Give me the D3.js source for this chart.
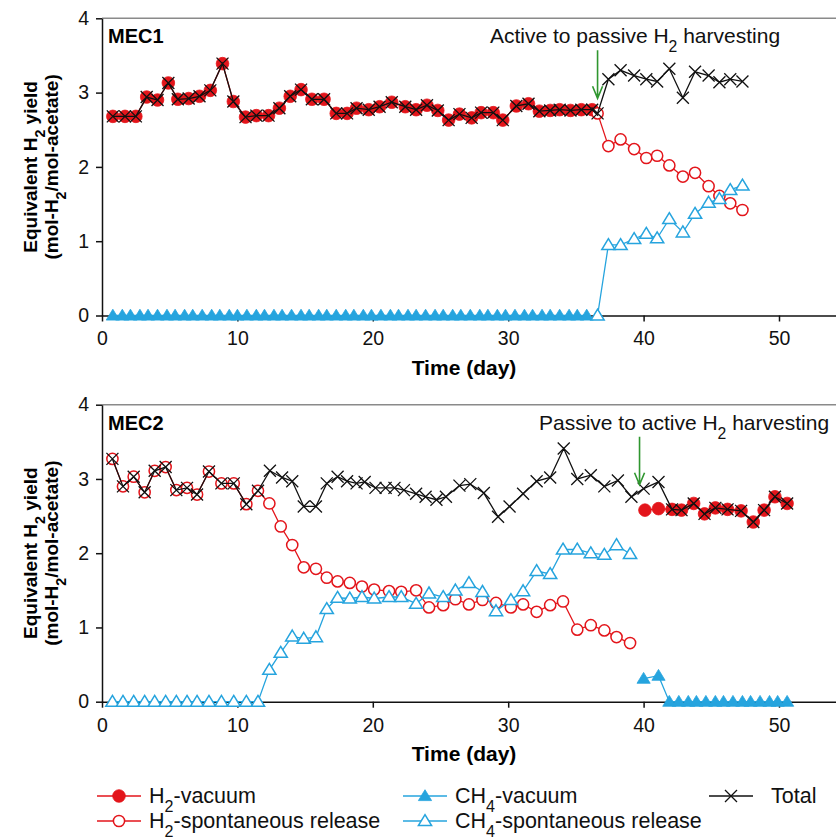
<!DOCTYPE html>
<html>
<head>
<meta charset="utf-8">
<script src="https://cdn.jsdelivr.net/npm/d3@7"></script>
<style>
  body { margin: 0; background: #fff; }
  svg { display: block; font-family: "Liberation Sans", Arial, sans-serif; }
</style>
</head>
<body>
<svg id="chart" width="836" height="840"></svg>
<script>
// ---- MEC1 (active -> passive) ----
var h2Vac1Days = [0.8,1.7,2.5,3.3,4.1,4.9,5.6,6.4,7.2,8.0,8.9,9.7,10.6,11.4,12.3,13.1,13.9,14.7,15.5,16.4,17.3,18.1,18.8,19.7,20.5,21.4,22.4,23.2,24.0,24.8,25.6,26.4,27.3,28.0,28.9,29.6,30.6,31.5,32.3,33.1,33.8,34.6,35.4,36.2];
var h2Vac1 = [2.68,2.68,2.68,2.94,2.90,3.13,2.91,2.92,2.95,3.03,3.39,2.88,2.67,2.69,2.69,2.79,2.95,3.04,2.91,2.91,2.72,2.72,2.79,2.77,2.81,2.87,2.81,2.77,2.83,2.76,2.63,2.71,2.66,2.73,2.73,2.63,2.82,2.85,2.75,2.76,2.77,2.76,2.77,2.77];
var ch4Vac1Days = [0.8,1.5,2.1,2.8,3.4,4.1,4.8,5.4,6.1,6.7,7.4,8.1,8.7,9.4,10.0,10.7,11.4,12.0,12.7,13.3,14.0,14.7,15.3,16.0,16.6,17.3,18.0,18.6,19.3,19.9,20.6,21.3,21.9,22.6,23.2,23.9,24.6,25.2,25.9,26.5,27.2,27.9,28.5,29.2,29.8,30.5,31.2,31.8,32.5,33.1,33.8,34.5,35.1,35.8];
var ch4Vac1 = [0,0,0,0,0,0,0,0,0,0,0,0,0,0,0,0,0,0,0,0,0,0,0,0,0,0,0,0,0,0,0,0,0,0,0,0,0,0,0,0,0,0,0,0,0,0,0,0,0,0,0,0,0,0];
var sp1Days = [36.6,37.4,38.3,39.3,40.2,41.0,41.9,42.9,43.8,44.8,45.6,46.4,47.3];
var h2Sp1 = [2.72,2.28,2.37,2.24,2.12,2.15,2.02,1.87,1.92,1.74,1.61,1.51,1.42];
var ch4Sp1 = [0,0.95,0.95,1.03,1.10,1.04,1.30,1.12,1.37,1.52,1.57,1.69,1.75];
var total1Days = [0.8,1.7,2.5,3.3,4.1,4.9,5.6,6.4,7.2,8.0,8.9,9.7,10.6,11.4,12.3,13.1,13.9,14.7,15.5,16.4,17.3,18.1,18.8,19.7,20.5,21.4,22.4,23.2,24.0,24.8,25.6,26.4,27.3,28.0,28.9,29.6,30.6,31.5,32.3,33.1,33.8,34.6,35.4,36.2,36.6,37.4,38.3,39.3,40.2,41.0,41.9,42.9,43.8,44.8,45.6,46.4,47.3];
var total1 = [2.68,2.68,2.68,2.94,2.90,3.13,2.91,2.92,2.95,3.03,3.39,2.88,2.67,2.69,2.69,2.79,2.95,3.04,2.91,2.91,2.72,2.72,2.79,2.77,2.81,2.87,2.81,2.77,2.83,2.76,2.63,2.71,2.66,2.73,2.73,2.63,2.82,2.85,2.75,2.76,2.77,2.76,2.77,2.77,2.72,3.18,3.30,3.23,3.18,3.15,3.32,2.93,3.28,3.23,3.14,3.18,3.15];

// ---- MEC2 (passive -> active) ----
var sp2Days = [0.77,1.55,2.34,3.15,3.89,4.70,5.49,6.28,7.02,7.90,8.82,9.73,10.66,11.52,12.36,13.2,14.05,14.9,15.8,16.6,17.4,18.3,19.2,20.1,21.2,22.1,23.2,24.15,25.2,26.1,27.1,28.1,29.1,30.2,31.1,32.1,33.1,34.05,35.1,36.1,37.1,38.0,39.0];
var h2Sp2 = [3.27,2.90,3.03,2.82,3.11,3.16,2.85,2.88,2.79,3.10,2.94,2.94,2.66,2.84,2.67,2.36,2.11,1.81,1.79,1.67,1.62,1.60,1.55,1.51,1.49,1.48,1.50,1.27,1.30,1.38,1.31,1.37,1.33,1.27,1.31,1.21,1.30,1.35,0.97,1.03,0.96,0.87,0.79];
var ch4Sp2 = [0,0,0,0,0,0,0,0,0,0,0,0,0,0,0.43,0.66,0.88,0.85,0.87,1.25,1.40,1.39,1.41,1.39,1.41,1.41,1.32,1.46,1.41,1.50,1.60,1.48,1.22,1.37,1.49,1.76,1.72,2.05,2.05,2.00,1.98,2.11,1.99];
var h2Vac2Days = [40.1,41.1,42.1,42.8,43.7,44.5,45.3,46.2,47.2,48.1,48.9,49.7,50.6];
var h2Vac2 = [2.58,2.60,2.59,2.58,2.67,2.53,2.61,2.59,2.57,2.42,2.58,2.76,2.67];
var ch4Vac2Days = [40.0,41.1,41.9,42.6,43.3,43.9,44.6,45.3,45.9,46.6,47.3,47.9,48.6,49.3,49.9,50.6];
var ch4Vac2 = [0.31,0.35,0,0,0,0,0,0,0,0,0,0,0,0,0,0];
var total2Days = [0.77,1.55,2.34,3.15,3.89,4.70,5.49,6.28,7.02,7.90,8.82,9.73,10.66,11.52,12.4,13.3,14.05,14.9,15.8,16.6,17.4,18.1,18.8,19.4,20.2,20.95,21.6,22.3,23.2,23.9,24.7,25.4,26.4,27.2,28.2,29.25,30.1,31.1,32.1,33.1,34.1,35.1,36.1,37.1,38.1,39.1,40.0,41.1,42.1,42.8,43.7,44.5,45.3,46.2,47.2,48.1,48.9,49.7,50.6];
var total2 = [3.27,2.90,3.03,2.82,3.11,3.16,2.85,2.88,2.79,3.10,2.94,2.94,2.66,2.84,3.11,3.02,2.97,2.63,2.63,2.94,3.03,2.97,2.94,2.96,2.88,2.88,2.88,2.85,2.80,2.76,2.72,2.76,2.91,2.93,2.81,2.49,2.63,2.80,2.97,3.02,3.41,3.00,3.05,2.90,2.98,2.76,2.87,2.96,2.59,2.58,2.67,2.53,2.61,2.59,2.57,2.42,2.58,2.76,2.67];

var xTicks = [0,10,20,30,40,50];
var yTicks = [0,1,2,3,4];

var RED = "#e3151b", BLUE = "#26a4de", GREEN = "#2f962f";
var svg = d3.select("#chart");

var x = d3.scaleLinear().domain([0, 55]).range([102, 846.7]);

// subscript-aware text: parts = [[str, isSub], ...]
function richText(sel, parts) {
    parts.forEach(function(p) {
        var t = sel.append("tspan").text(p[0]);
        if (p[1]) t.attr("baseline-shift", "sub").attr("font-size", "0.75em");
    });
    return sel;
}

function marker(g, type, cx, cy) {
    if (type == "h2vac") {
        g.append("circle").attr("cx", cx).attr("cy", cy).attr("r", 6.3)
          .attr("fill", RED).attr("stroke", RED).attr("stroke-width", 0.8);
    } else if (type == "h2sp") {
        g.append("circle").attr("cx", cx).attr("cy", cy).attr("r", 5.6)
          .attr("fill", "#fff").attr("stroke", RED).attr("stroke-width", 1.5);
    } else if (type == "ch4vac") {
        g.append("path").attr("transform", "translate(" + cx + "," + cy + ")")
          .attr("d", "M0,-6.3L6.6,4.6L-6.6,4.6Z").attr("fill", BLUE).attr("stroke", BLUE).attr("stroke-width", 0.8);
    } else if (type == "ch4sp") {
        g.append("path").attr("transform", "translate(" + cx + "," + cy + ")")
          .attr("d", "M0,-6.3L6.6,4.6L-6.6,4.6Z").attr("fill", "#fff").attr("stroke", BLUE).attr("stroke-width", 1.5);
    } else {
        g.append("path").attr("transform", "translate(" + cx + "," + cy + ")")
          .attr("d", "M-6,-6L6,6M-6,6L6,-6").attr("fill", "none").attr("stroke", "#111").attr("stroke-width", 1.3);
    }
}

var styles = {
    h2vac: RED, h2sp: RED, ch4vac: BLUE, ch4sp: BLUE, total: "#111"
};

function drawSeries(g, y, days, vals, type) {
    var pts = d3.zip(days, vals);
    var line = d3.line().x(function(d) { return x(d[0]); }).y(function(d) { return y(d[1]); });
    g.append("path").datum(pts)
      .attr("d", line)
      .attr("fill", "none")
      .attr("stroke", styles[type])
      .attr("stroke-width", 1.3);
    var mg = g.append("g");
    pts.forEach(function(d) { marker(mg, type, x(d[0]), y(d[1])); });
}

function drawPanel(top, bottom, title, note, arrowDay, series) {
    var y = d3.scaleLinear().domain([0, 4]).range([bottom, top]);
    var g = svg.append("g");

    // top frame line
    g.append("line").attr("x1", 102).attr("x2", 836).attr("y1", top).attr("y2", top)
      .attr("stroke", "#8a8a8a").attr("stroke-width", 1.6);

    var xa = g.append("g").attr("transform", "translate(0," + bottom + ")")
      .call(d3.axisBottom(x).tickValues(xTicks).tickSize(6).tickSizeOuter(0).tickPadding(10));
    var ya = g.append("g").attr("transform", "translate(102,0)")
      .call(d3.axisLeft(y).tickValues(yTicks).tickSize(6).tickSizeOuter(0).tickPadding(7).tickFormat(d3.format("d")));
    [xa, ya].forEach(function(a) {
        a.selectAll("path, line").attr("stroke", "#111").attr("stroke-width", 1.5);
        a.selectAll("text").attr("font-size", 19.5).attr("fill", "#111")
          .attr("font-family", "Liberation Sans, Arial, sans-serif");
    });

    series.forEach(function(s) { drawSeries(g, y, s[0], s[1], s[2]); });

    // axis titles
    g.append("text").attr("x", 464).attr("y", bottom + 59).attr("text-anchor", "middle")
      .attr("font-size", 21).attr("font-weight", "bold").text("Time (day)");
    var mid = (top + bottom) / 2;
    richText(g.append("text").attr("transform", "translate(37," + mid + ") rotate(-90)")
      .attr("text-anchor", "middle").attr("font-size", 19).attr("font-weight", "bold"),
      [["Equivalent H", 0], ["2", 1], [" yield", 0]]);
    richText(g.append("text").attr("transform", "translate(58," + mid + ") rotate(-90)")
      .attr("text-anchor", "middle").attr("font-size", 19).attr("font-weight", "bold"),
      [["(mol-H", 0], ["2", 1], ["/mol-acetate)", 0]]);

    g.append("text").attr("x", 108).attr("y", top + 25).attr("font-size", 20)
      .attr("font-weight", "bold").text(title);

    // annotation + arrow
    richText(g.append("text").attr("x", note[1]).attr("y", top + 25).attr("font-size", 21)
      .attr("fill", "#111"), note[0]);
    var ax = x(arrowDay), y0 = top + 32, y1 = top + 80;
    g.append("path")
      .attr("d", "M" + ax + "," + y0 + "L" + ax + "," + y1 + "M" + (ax - 5) + "," + (y1 - 12) + "L" + ax + "," + y1 + "L" + (ax + 5) + "," + (y1 - 12))
      .attr("fill", "none").attr("stroke", GREEN).attr("stroke-width", 1.6);
}

drawPanel(18.3, 315.5, "MEC1",
    [[["Active to passive H", 0], ["2", 1], [" harvesting", 0]], 490],
    36.6,
    [[h2Vac1Days, h2Vac1, "h2vac"],
     [sp1Days, h2Sp1, "h2sp"],
     [ch4Vac1Days, ch4Vac1, "ch4vac"],
     [sp1Days, ch4Sp1, "ch4sp"],
     [total1Days, total1, "total"]]);

drawPanel(404.7, 701.7, "MEC2",
    [[["Passive to active H", 0], ["2", 1], [" harvesting", 0]], 539],
    39.7,
    [[sp2Days, h2Sp2, "h2sp"],
     [h2Vac2Days, h2Vac2, "h2vac"],
     [sp2Days, ch4Sp2, "ch4sp"],
     [ch4Vac2Days, ch4Vac2, "ch4vac"],
     [total2Days, total2, "total"]]);

// legend
var legendItems = [
    {type: "h2vac", cx: 119, cy: 796, tx: 149, label: [["H", 0], ["2", 1], ["-vacuum", 0]]},
    {type: "h2sp", cx: 119, cy: 821, tx: 149, label: [["H", 0], ["2", 1], ["-spontaneous release", 0]]},
    {type: "ch4vac", cx: 425, cy: 796, tx: 455, label: [["CH", 0], ["4", 1], ["-vacuum", 0]]},
    {type: "ch4sp", cx: 425, cy: 821, tx: 455, label: [["CH", 0], ["4", 1], ["-spontaneous release", 0]]},
    {type: "total", cx: 731, cy: 796, tx: 771, label: [["Total", 0]]}
];
var lg = svg.append("g");
legendItems.forEach(function(it) {
    lg.append("line").attr("x1", it.cx - 22).attr("x2", it.cx + 22)
      .attr("y1", it.cy).attr("y2", it.cy)
      .attr("stroke", styles[it.type]).attr("stroke-width", 1.5);
    marker(lg, it.type, it.cx, it.cy);
    richText(lg.append("text").attr("x", it.tx).attr("y", it.cy + 7)
      .attr("font-size", 21.5).attr("fill", "#111"), it.label);
});
</script>
</body>
</html>
